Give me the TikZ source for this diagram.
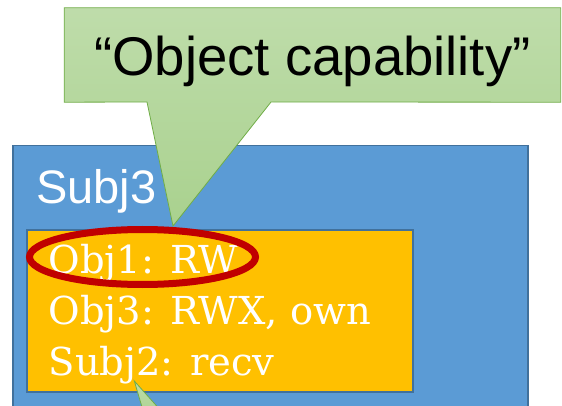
\documentclass[tikz,border=0pt]{standalone}
\usepackage{fontspec}
\setmainfont{Liberation Sans}
\newfontfamily\slabfont{DejaVu Serif}
\usetikzlibrary{positioning,shapes.geometric}
\definecolor{calloutgreen}{HTML}{A9D18E}
\definecolor{calloutedge}{HTML}{70AD47}
\definecolor{subjblue}{HTML}{5B9BD5}
\definecolor{subjedge}{HTML}{41719C}
\definecolor{capyellow}{HTML}{FFC000}
\definecolor{markred}{HTML}{C00000}
\tikzset{
    subject/.style={
        rectangle,
        draw=subjedge, fill=subjblue,
        line width=1.5pt,
        inner sep=0pt,
        anchor=north west
    },
    caplist/.style={
        rectangle,
        draw=subjedge, fill=capyellow,
        line width=1.5pt,
        inner sep=0pt,
        anchor=north west
    },
    capentry/.style={
        anchor=base west,
        text=white,
        inner sep=0pt,
        font=\slabfont\fontsize{38.5}{38.5}\selectfont
    },
    callout/.style={
        draw=calloutedge,
        top color=calloutgreen!75!white,
        bottom color=calloutgreen,
        line width=0.8pt,
        line join=miter
    },
    highlight/.style={
        ellipse,
        draw=markred,
        line width=7pt,
        minimum width=226pt,
        minimum height=55pt,
        inner sep=0pt
    }
}

\begin{document}
\begin{tikzpicture}[x=1pt,y=-1pt]
    \useasboundingbox (0,0) rectangle (562,406);
    \clip (0,0) rectangle (562,406);

    % subject and its capability list
    \node[subject, minimum width=515pt, minimum height=280pt] (subj3) at (12,145) {};
    \node[anchor=base west, inner sep=0pt, text=white,
          font=\fontsize{47}{47}\selectfont] (subj3 label) at (36,204) {Subj3};
    \node[caplist, minimum width=386pt, minimum height=162pt] (caps) at (26,229) {};
    \node[capentry] (obj1) at (48.5,273) {Obj1: RW};
    \node[capentry] (obj3) at (48.5,324) {Obj3: RWX, own};
    \node[capentry] (subj2) at (48.5,375) {Subj2: recv};
    \node[highlight] (obj1 mark) at (142.5,257) {};

    % callout
    \node[minimum width=496pt, minimum height=94pt, inner sep=0pt] (quote box) at (312.5,55) {};
    \coordinate (tail left) at (147,102);
    \coordinate (tail right) at (271,102);
    \coordinate (tail tip) at (173,226);
    \draw[callout] (quote box.north west) -- (quote box.north east)
        -- (quote box.south east) -- (tail right) -- (tail tip)
        -- (tail left) -- (quote box.south west) -- cycle;
    \node[anchor=base, inner sep=0pt, font=\fontsize{54.5}{54.5}\selectfont]
        (quote text) at (312.5,76) {“Object capability”};

    % tail of a second callout coming from below
    \coordinate (low tip) at (134.3,381);
    \coordinate (low left) at (145.8,420);
    \coordinate (low right) at (169.2,420);
    \draw[callout] (low tip) -- (low right) -- (low left) -- cycle;
\end{tikzpicture}
\end{document}
